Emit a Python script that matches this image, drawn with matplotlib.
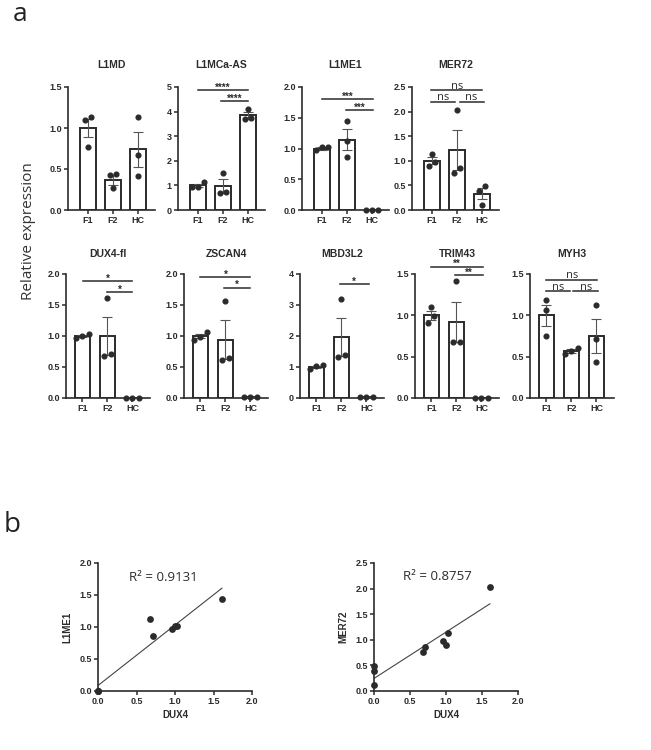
import numpy as np
import matplotlib
matplotlib.use('Agg')
import matplotlib.pyplot as plt

plt.rcParams['font.family'] = ['Liberation Sans', 'DejaVu Sans']
plt.rcParams['font.weight'] = 'bold'

# data
groups = ['F1', 'F2', 'HC']

l1md_mean = [1.00, 0.37, 0.74]
l1md_sem = [0.11, 0.06, 0.21]
l1md_pts = [[1.13, 1.10, 0.77], [0.44, 0.43, 0.27], [1.13, 0.67, 0.42]]
l1md_sig = []

l1mca_mean = [1.00, 0.97, 3.85]
l1mca_sem = [0.07, 0.27, 0.14]
l1mca_pts = [[0.92, 1.15, 0.93], [1.51, 0.72, 0.68], [4.12, 3.70, 3.73]]
l1mca_sig = [(0, 2, 4.86, '****'), (0.9, 2, 4.42, '****')]

l1me1_mean = [1.00, 1.14, 0.00]
l1me1_sem = [0.017, 0.17, 0.0]
l1me1_pts = [[0.97, 1.02, 1.02], [1.44, 1.12, 0.86], [0.0, 0.0, 0.0]]
l1me1_sig = [(0, 2.05, 1.80, '***'), (0.95, 2.05, 1.62, '***')]

mer72_mean = [1.00, 1.22, 0.33]
mer72_sem = [0.07, 0.41, 0.11]
mer72_pts = [[0.97, 0.90, 1.13], [2.03, 0.76, 0.86], [0.48, 0.39, 0.11]]
mer72_sig = [(-0.03, 2.02, 2.43, 'ns'), (-0.05, 0.93, 2.20, 'ns'), (1.1, 2.07, 2.20, 'ns')]

dux4fl_mean = [1.00, 1.00, 0.00]
dux4fl_sem = [0.02, 0.31, 0.0]
dux4fl_pts = [[0.96, 1.00, 1.03], [1.61, 0.68, 0.71], [0.0, 0.0, 0.0]]
dux4fl_sig = [(0.03, 2, 1.88, '*'), (0.97, 2, 1.71, '*')]

zscan4_mean = [1.00, 0.94, 0.01]
zscan4_sem = [0.04, 0.31, 0.0]
zscan4_pts = [[0.94, 1.07, 0.99], [1.56, 0.62, 0.65], [0.01, 0.01, 0.01]]
zscan4_sig = [(0, 2, 1.95, '*'), (0.95, 2, 1.78, '*')]

mbd3l2_mean = [1.00, 1.97, 0.02]
mbd3l2_sem = [0.03, 0.61, 0.0]
mbd3l2_pts = [[1.05, 0.95, 1.02], [3.19, 1.31, 1.40], [0.02, 0.02, 0.02]]
mbd3l2_sig = [(0.93, 2.1, 3.68, '*')]

trim43_mean = [1.00, 0.92, 0.00]
trim43_sem = [0.055, 0.24, 0.0]
trim43_pts = [[1.10, 0.91, 0.99], [1.41, 0.68, 0.68], [0.0, 0.0, 0.0]]
trim43_sig = [(0, 2.05, 1.59, '**'), (0.95, 2.05, 1.49, '**')]

myh3_mean = [1.00, 0.57, 0.75]
myh3_sem = [0.13, 0.02, 0.20]
myh3_pts = [[1.19, 1.06, 0.75], [0.61, 0.57, 0.53], [1.12, 0.71, 0.43]]
myh3_sig = [(0, 2.03, 1.43, 'ns'), (0, 0.93, 1.29, 'ns'), (1.07, 2.08, 1.29, 'ns')]

# scatter panel b
dux4 = [0.96, 1.00, 1.03, 1.61, 0.68, 0.71, 0.0, 0.0, 0.0]
l1me1 = [0.97, 1.02, 1.02, 1.44, 1.12, 0.86, 0.0, 0.0, 0.0]
mer72 = [0.97, 0.90, 1.13, 2.03, 0.76, 0.86, 0.48, 0.39, 0.11]

W, H = 651, 750
ink = '#2b2b2b'
fig = plt.figure(figsize=(W / 100, H / 100), dpi=100)


def rect(l, t, r, b):
    return [l / W, 1 - b / H, (r - l) / W, (b - t) / H]


def style_axes(ax):
    for s in ['top', 'right']:
        ax.spines[s].set_visible(False)
    for s in ['left', 'bottom']:
        ax.spines[s].set_linewidth(1.2)
        ax.spines[s].set_color(ink)
    ax.tick_params(direction='out', length=3, width=1.1, color=ink,
                   labelsize=6.5, pad=1.5, labelcolor=ink)


def spread(vals, ymax, step=0.25):
    # side-by-side offsets for points that would overlap
    vals = np.asarray(vals)
    order = np.argsort(vals)
    offs = np.zeros(len(vals))
    clusters, cur = [], [order[0]]
    for i in order[1:]:
        if vals[i] - vals[cur[-1]] < 0.06 * ymax:
            cur.append(i)
        else:
            clusters.append(cur)
            cur = [i]
    clusters.append(cur)
    for c in clusters:
        for k, i in enumerate(c):
            offs[i] = (k - (len(c) - 1) / 2) * step
    return offs


def bar_panel(ax, title, means, sems, pts, ymax, ystep, sig, xlim, pad):
    x = np.arange(len(groups))
    ax.bar(x, means, width=0.62, color='white', edgecolor=ink, linewidth=1.4, zorder=2)
    ax.errorbar(x, means, yerr=sems, fmt='none', ecolor='#555555', elinewidth=0.8,
                capsize=3.5, capthick=0.8, zorder=3)
    for i in range(len(groups)):
        offs = spread(pts[i], ymax)
        ax.plot(x[i] + offs, pts[i], 'o', ms=3.4, color=ink, zorder=4, clip_on=False)
    ax.set_xlim(*xlim)
    ax.set_ylim(0, ymax)
    ticks = np.arange(0, ymax + 1e-9, ystep)
    ax.set_yticks(ticks)
    if ystep >= 1:
        ax.set_yticklabels([f'{t:.0f}' for t in ticks])
    else:
        ax.set_yticklabels([f'{t:.1f}' for t in ticks])
    ax.set_xticks(x, groups)
    style_axes(ax)
    ax.set_title(title, fontsize=7.5, fontweight='bold', color=ink, y=1.0, pad=pad)
    for x1, x2, y, label in sig:
        ax.plot([x1, x2], [y, y], color=ink, lw=1.1, clip_on=False, zorder=5)
        if label == 'ns':
            ax.annotate(label, xy=((x1 + x2) / 2, y), xytext=(0, 1.2), textcoords='offset points',
                        ha='center', va='baseline', fontsize=8, fontweight='normal',
                        family=['Open Sans', 'DejaVu Sans'], color=ink, annotation_clip=False)
        else:
            ax.annotate(label, xy=((x1 + x2) / 2, y), xytext=(0, -0.5), textcoords='offset points',
                        ha='center', va='baseline', fontsize=7, fontweight='bold',
                        color=ink, annotation_clip=False)


top_panels = [
    ('L1MD', l1md_mean, l1md_sem, l1md_pts, 1.5, 0.5, l1md_sig, 68),
    ('L1MCa-AS', l1mca_mean, l1mca_sem, l1mca_pts, 5, 1, l1mca_sig, 178),
    ('L1ME1', l1me1_mean, l1me1_sem, l1me1_pts, 2.0, 0.5, l1me1_sig, 302),
    ('MER72', mer72_mean, mer72_sem, mer72_pts, 2.5, 0.5, mer72_sig, 412),
]
bottom_panels = [
    ('DUX4-fl', dux4fl_mean, dux4fl_sem, dux4fl_pts, 2.0, 0.5, dux4fl_sig, 66),
    ('ZSCAN4', zscan4_mean, zscan4_sem, zscan4_pts, 2.0, 0.5, zscan4_sig, 184),
    ('MBD3L2', mbd3l2_mean, mbd3l2_sem, mbd3l2_pts, 4, 1, mbd3l2_sig, 300),
    ('TRIM43', trim43_mean, trim43_sem, trim43_pts, 1.5, 0.5, trim43_sig, 415),
    ('MYH3', myh3_mean, myh3_sem, myh3_pts, 1.5, 0.5, myh3_sig, 530),
]

for title, m, s, p, ymax, ystep, sig, left in top_panels:
    ax = fig.add_axes(rect(left, 87, left + 87, 210))
    bar_panel(ax, title, m, s, p, ymax, ystep, sig, (-0.8, 2.68), 13.5)

for title, m, s, p, ymax, ystep, sig, left in bottom_panels:
    ax = fig.add_axes(rect(left, 274, left + 84, 398))
    bar_panel(ax, title, m, s, p, ymax, ystep, sig, (-0.65, 2.7), 12)

fig.text(28 / W, 1 - 231 / H, 'Relative expression', rotation=90, ha='center', va='center',
         fontsize=11, fontweight='normal', family=['Open Sans', 'DejaVu Sans'], color='#333333')

# panel b scatter plots
scatters = [
    ('L1ME1', l1me1, 2.0, 'R\u00b2 = 0.9131', 1.78, (98, 563, 252, 691)),
    ('MER72', mer72, 2.5, 'R\u00b2 = 0.8757', 2.24, (374, 563, 518, 691)),
]
for ylab, yvals, ymax, rtxt, ry, box in scatters:
    ax = fig.add_axes(rect(*box))
    ax.scatter(dux4, yvals, s=24, color=ink, zorder=3, clip_on=False, linewidths=0)
    coef = np.polyfit(dux4, yvals, 1)
    xs = np.array([0, max(dux4)])
    ax.plot(xs, np.polyval(coef, xs), color='#444444', lw=0.8, zorder=2)
    ax.set_xlim(0, 2.0)
    ax.set_ylim(0, ymax)
    ax.set_xticks(np.arange(0, 2.01, 0.5))
    ax.set_yticks(np.arange(0, ymax + 1e-9, 0.5))
    ax.xaxis.set_major_formatter('{x:.1f}')
    ax.yaxis.set_major_formatter('{x:.1f}')
    style_axes(ax)
    ax.set_xlabel('DUX4', fontsize=7, fontweight='bold', color=ink, labelpad=3)
    ax.set_ylabel(ylab, fontsize=7, fontweight='bold', color=ink, labelpad=5)
    ax.text(0.4, ry, rtxt, fontsize=9.5, fontweight='normal', family=['Open Sans', 'DejaVu Sans'],
            color=ink, va='center', ha='left')

fig.text(20 / W, 1 - 21 / H, 'a', fontsize=19, fontweight='normal', family=['Open Sans', 'DejaVu Sans'],
         ha='center', va='baseline', color='#222222')
fig.text(12 / W, 1 - 532 / H, 'b', fontsize=20, fontweight='normal', family=['Open Sans', 'DejaVu Sans'],
         ha='center', va='baseline', color='#222222')

fig.savefig('out.png', dpi=100, facecolor='white')
